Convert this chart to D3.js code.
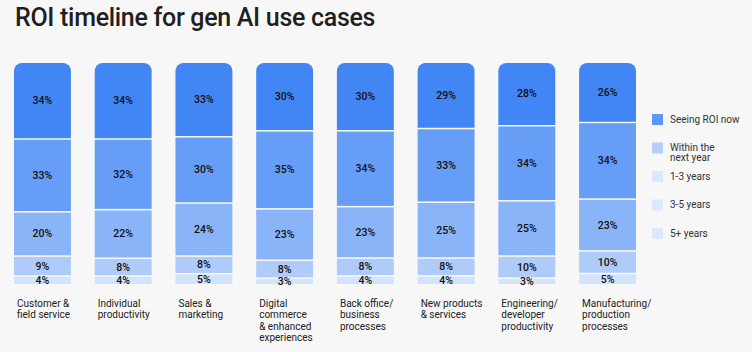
<!DOCTYPE html>
<html><head><meta charset="utf-8">
<script src="https://cdn.jsdelivr.net/npm/d3@7"></script>
<style>
html,body{margin:0;padding:0;background:#f7f7f7;}
svg{display:block;font-family:Roboto, "Noto Sans", sans-serif;}
</style></head>
<body><svg id="c" width="752" height="352"></svg>
<script>
const categories = [
  ["Customer &","field service"],
  ["Individual","productivity"],
  ["Sales &","marketing"],
  ["Digital","commerce","& enhanced","experiences"],
  ["Back office/","business","processes"],
  ["New products","& services"],
  ["Engineering/","developer","productivity"],
  ["Manufacturing/","production","processes"]
];
const seriesNames = ["Seeing ROI now","Within the next year","1-3 years","3-5 years","5+ years"];
const legendLabels = [["Seeing ROI now"],["Within the","next year"],["1-3 years"],["3-5 years"],["5+ years"]];
const seeingNow   = [34,34,33,30,30,29,28,26];
const nextYear    = [33,32,30,35,34,33,34,34];
const oneToThree  = [20,22,24,23,23,25,25,23];
const threeToFive = [9,8,8,8,8,8,10,10];
const fivePlus    = [4,4,5,3,4,4,3,5];
const series = [seeingNow,nextYear,oneToThree,threeToFive,fivePlus];
const colors = ["#4285f4","#669df6","#8ab4f8","#aecbfa","#d2e3fc"];
const legendColors = ["#5e97f6","#b6cffa","#dce8fd","#dce8fd","#dce8fd"];

const svg = d3.select("#c");
svg.append("rect").attr("width",752).attr("height",352).attr("fill","#f7f7f7");

svg.append("text").attr("x",15).attr("y",26)
  .attr("font-size",25).attr("font-weight",500).attr("fill","#1f1f1f")
  .attr("letter-spacing",-0.3)
  .text("ROI timeline for gen AI use cases");

const x = d3.scaleBand().domain(d3.range(categories.length)).range([14,636]).paddingInner(0.295).paddingOuter(0);
const y = d3.scaleLinear().domain([0,100]).range([284,63]);
const gap = 1.6, r = 8;

categories.forEach((cat,i)=>{
  const total = d3.sum(series, s=>s[i]);
  let cum = 0;
  const g = svg.append("g");
  series.forEach((s,k)=>{
    const v = s[i]/total*100;
    const yTop = y(100-cum);
    const yBot = y(100-cum-v);
    cum += v;
    const x0 = x(i), w = x.bandwidth();
    const top = k===0 ? yTop : yTop + gap;
    if(k===0){
      const p = d3.path();
      p.moveTo(x0, yBot);
      p.lineTo(x0, top + r);
      p.arcTo(x0, top, x0 + r, top, r);
      p.lineTo(x0 + w - r, top);
      p.arcTo(x0 + w, top, x0 + w, top + r, r);
      p.lineTo(x0 + w, yBot);
      p.closePath();
      g.append("path").attr("d",p.toString()).attr("fill",colors[k]);
    } else {
      g.append("rect").attr("x",x0).attr("y",top).attr("width",w).attr("height",Math.max(0,yBot-top)).attr("fill",colors[k]);
    }
    g.append("text").attr("x",x0+w/2).attr("y",(top+yBot)/2)
      .attr("text-anchor","middle").attr("dominant-baseline","central")
      .attr("font-size",10.5).attr("font-weight",500).attr("fill","#111")
      .text(s[i]+"%");
  });
  const t = svg.append("text").attr("x",x(i)+3).attr("y",307)
    .attr("font-size",10).attr("fill","#202124");
  cat.forEach((line,j)=>{
    t.append("tspan").attr("x",x(i)+3).attr("dy", j===0?0:11.3).text(line);
  });
});

// legend
const ly = d3.scalePoint().domain(d3.range(seriesNames.length)).range([114,228]);
legendLabels.forEach((lab,k)=>{
  svg.append("rect").attr("x",652).attr("y",ly(k)).attr("width",11).attr("height",11).attr("fill",legendColors[k]);
  const t = svg.append("text").attr("x",670).attr("y",ly(k)+8.5).attr("font-size",10).attr("fill","#333");
  lab.forEach((line,j)=>{
    t.append("tspan").attr("x",670).attr("dy",j===0?0:9.5).text(line);
  });
});
</script></body></html>
